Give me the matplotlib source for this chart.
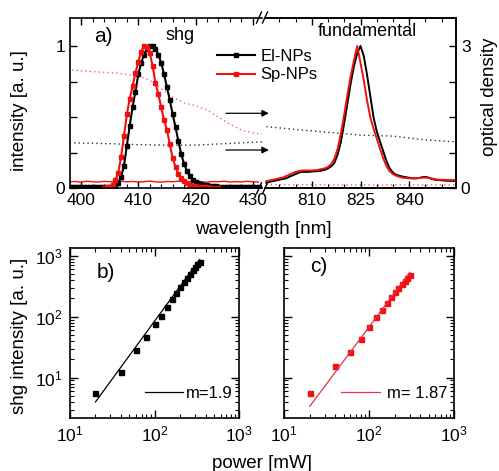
import numpy as np
import matplotlib
matplotlib.use("Agg")
import matplotlib.pyplot as plt
from matplotlib.ticker import MultipleLocator, FixedLocator, FuncFormatter, LogLocator, NullFormatter

plt.rcParams['font.family'] = ['Liberation Sans', 'DejaVu Sans']
plt.rcParams['font.size'] = 12
plt.rcParams['mathtext.default'] = 'regular'

# ---- a) shg spectra (normalised) ----
shg_wl_el = np.arange(398, 431.5, 0.5)
shg_el = [0.01] * 14 + [
    0.01, 0.012, 0.018, 0.035, 0.08, 0.16, 0.30, 0.44, 0.57, 0.68,
    0.80, 0.88, 0.94, 0.98, 1.0, 1.0, 0.98, 0.94, 0.88, 0.80,
    0.71, 0.62, 0.52, 0.43, 0.33, 0.24, 0.17, 0.12, 0.085, 0.06,
    0.045, 0.035, 0.028, 0.023, 0.02, 0.017, 0.015, 0.013, 0.012, 0.011,
] + [0.01] * 13

shg_wl_sp = np.arange(404, 424.5, 0.5)
shg_sp = [
    0.004, 0.006, 0.01, 0.025, 0.055, 0.11, 0.22, 0.37, 0.52, 0.63,
    0.72, 0.81, 0.89, 0.96, 1.0, 0.99, 0.95, 0.86, 0.74, 0.66,
    0.57, 0.48, 0.41, 0.31, 0.21, 0.15, 0.10, 0.07, 0.05, 0.035,
    0.025, 0.018, 0.013, 0.01, 0.008, 0.007, 0.006, 0.005, 0.004, 0.004,
    0.003,
]

# Sp-NPs background level under the shg window
bg_wl_sp = np.arange(398, 432, 1)
bg_sp = [0.045, 0.048, 0.043, 0.05, 0.046, 0.044, 0.049, 0.047, 0.043, 0.05,
         0.046, 0.048, 0.044, 0.047, 0.051, 0.045, 0.043, 0.048, 0.046, 0.05,
         0.044, 0.047, 0.049, 0.045, 0.043, 0.048, 0.046, 0.05, 0.044, 0.047,
         0.045, 0.049, 0.046, 0.044]

# ---- a) fundamental spectra ----
fund_wl = np.arange(796, 855, 1)
fund_el = [0.04, 0.045, 0.05, 0.055, 0.06, 0.065, 0.07, 0.08, 0.09, 0.10,
           0.11, 0.115, 0.115, 0.115, 0.118, 0.12, 0.12, 0.125, 0.13, 0.14,
           0.155, 0.18, 0.24, 0.33, 0.46, 0.60, 0.74, 0.86, 0.95, 1.0,
           0.93, 0.80, 0.65, 0.50, 0.40, 0.33, 0.26, 0.19, 0.14, 0.11,
           0.095, 0.088, 0.082, 0.078, 0.074, 0.07, 0.07, 0.072, 0.078, 0.08,
           0.075, 0.065, 0.06, 0.058, 0.056, 0.054, 0.053, 0.052, 0.051]
fund_sp = [0.05, 0.055, 0.06, 0.065, 0.07, 0.075, 0.085, 0.095, 0.105, 0.115,
           0.12, 0.125, 0.125, 0.125, 0.125, 0.127, 0.13, 0.135, 0.14, 0.15,
           0.17, 0.21, 0.28, 0.39, 0.52, 0.66, 0.79, 0.90, 1.0, 0.88,
           0.76, 0.62, 0.50, 0.42, 0.35, 0.28, 0.21, 0.155, 0.12, 0.10,
           0.088, 0.08, 0.075, 0.072, 0.07, 0.07, 0.07, 0.072, 0.075, 0.075,
           0.072, 0.068, 0.064, 0.06, 0.06, 0.059, 0.058, 0.058, 0.058]

# ---- a) optical density ----
od_wl_sp_l = [398.4, 402, 406, 410, 412, 414, 416, 418, 420, 422, 424, 426, 428, 430, 431.6]
od_sp_l = [2.49, 2.46, 2.43, 2.37, 2.28, 2.10, 1.92, 1.80, 1.74, 1.65, 1.50, 1.35, 1.23, 1.17, 1.14]
od_wl_el_l = [398, 405, 410, 415, 420, 425, 431.6]
od_el_l = [0.96, 0.94, 0.92, 0.91, 0.91, 0.94, 0.98]
od_wl_r = [796, 805, 815, 825, 835, 845, 854]
od_el_r = [1.30, 1.24, 1.18, 1.12, 1.10, 1.02, 0.98]
od_sp_r = [0.08, 0.075, 0.07, 0.07, 0.07, 0.07, 0.07]

# ---- b), c) power dependence ----
power_el = [20, 40, 60, 80, 100, 120, 140, 160, 180, 200, 220, 240, 260, 280, 300, 320, 340]
shg_int_el = [5.7, 12.5, 28, 47, 75, 105, 145, 195, 250, 305, 370, 435, 505, 580, 660, 730, 800]
power_sp = [20, 40, 60, 80, 100, 120, 140, 160, 180, 200, 220, 240, 260, 280, 300]
shg_int_sp = [5.5, 15.7, 26.7, 44, 68, 99, 129, 170, 214, 255, 300, 345, 390, 440, 490]
slope_el = 1.9
slope_sp = 1.87

RED = '#f01010'
LABEL_FS = 13.5

fig = plt.figure(figsize=(4.99, 4.71), dpi=100)
W, H = 499, 471


def box(x0, y0, x1, y1):
    return [x0 / W, 1 - y1 / H, (x1 - x0) / W, (y1 - y0) / H]


ax_l = fig.add_axes(box(70, 17.5, 262, 188.3))
ax_r = fig.add_axes(box(265, 17.5, 456, 188.3))
od_l = ax_l.twinx()
od_r = ax_r.twinx()
for ax, od in ((ax_l, od_l), (ax_r, od_r)):
    ax.set_zorder(od.get_zorder() + 1)
    ax.patch.set_visible(False)
    ax.set_ylim(0, 1.2)
    od.set_ylim(0, 3.6)

# absorption curves (dotted)
od_l.plot(od_wl_sp_l, od_sp_l, color='#e06a6a', lw=1.0, ls=(0, (1, 2.2)))
od_l.plot(od_wl_el_l, od_el_l, color='#333333', lw=1.0, ls=(0, (1, 2.2)))
od_r.plot(od_wl_r, od_el_r, color='#333333', lw=1.0, ls=(0, (1, 2.2)))
od_r.plot(od_wl_r, od_sp_r, color='#e06a6a', lw=1.0, ls=(0, (1, 2.2)))
od_l.axis('off')

# spectra
ax_l.plot(bg_wl_sp, bg_sp, color=RED, lw=1.0)
ax_l.plot(shg_wl_el, shg_el, color='k', lw=1.5, marker='s', ms=2.2, label='El-NPs')
ax_l.plot(shg_wl_sp, shg_sp, color=RED, lw=1.5, marker='s', ms=2.2, label='Sp-NPs')
ax_r.plot(fund_wl, fund_el, color='k', lw=1.4)
ax_r.plot(fund_wl, fund_sp, color=RED, lw=1.4)

ax_l.set_xlim(398.07, 431.6)
ax_r.set_xlim(795.6, 854.4)

ax_l.xaxis.set_major_locator(MultipleLocator(10))
ax_l.xaxis.set_minor_locator(MultipleLocator(2))
ax_r.xaxis.set_major_locator(FixedLocator([810, 825, 840]))
ax_r.xaxis.set_minor_locator(MultipleLocator(5))
ax_l.yaxis.set_major_locator(MultipleLocator(0.25))
ax_l.yaxis.set_major_formatter(FuncFormatter(lambda v, p: '%d' % v if v in (0, 1) else ''))
ax_r.yaxis.set_major_locator(MultipleLocator(0.25))
od_r.yaxis.set_major_locator(MultipleLocator(0.75))
od_r.yaxis.set_major_formatter(FuncFormatter(lambda v, p: '%d' % v if v in (0, 3) else ''))

ax_l.tick_params(which='both', direction='in', top=True, right=False, labelsize=12.5)
ax_l.tick_params(which='major', length=5, width=1)
ax_l.tick_params(which='minor', length=3, width=0.8)
ax_r.tick_params(which='both', direction='in', top=True, left=False, right=False,
                 labelleft=False, labelsize=12.5)
ax_r.tick_params(which='major', length=5, width=1)
ax_r.tick_params(which='minor', length=3, width=0.8)
od_r.tick_params(direction='in', length=5, width=1, labelsize=12.5)

ax_l.spines['right'].set_visible(False)
ax_r.spines['left'].set_visible(False)
od_r.spines['left'].set_visible(False)
for ax in (ax_l, ax_r, od_r):
    for s in ax.spines.values():
        s.set_linewidth(1.2)

# axis break marks
dx, dy = 2.5 / 192, 5.5 / 171
for xb in ((259 - 70) / 192, (265 - 70) / 192):
    for yb in (0, 1):
        ax_l.plot([xb - dx, xb + dx], [yb - dy, yb + dy], transform=ax_l.transAxes,
                  color='k', lw=1.0, clip_on=False)

# arrows pointing to the optical density axis
for y in (0.527, 0.269):
    ax_l.annotate('', xy=(432.8, y), xytext=(425.3, y), annotation_clip=False,
                  arrowprops=dict(arrowstyle='-|>', color='k', lw=0.9,
                                  mutation_scale=10, shrinkA=0, shrinkB=0))

ax_l.legend(loc='upper left', bbox_to_anchor=(0.765, 0.815), frameon=False,
            handlelength=2.3, handletextpad=0.3, labelspacing=0.2,
            borderaxespad=0, borderpad=0, fontsize=12)

fig.text(103 / W, 1 - 37 / H, 'a)', fontsize=15, ha='center', va='center')
fig.text(180 / W, 1 - 35 / H, 'shg', fontsize=13, ha='center', va='center')
fig.text(367 / W, 1 - 32 / H, 'fundamental', fontsize=13, ha='center', va='center')
fig.text(263 / W, 1 - 230 / H, 'wavelength [nm]', fontsize=LABEL_FS, ha='center', va='center')
fig.text(20 / W, 1 - 111 / H, 'intensity [a. u.]', fontsize=LABEL_FS, ha='center', va='center', rotation=90)
fig.text(490 / W, 1 - 97 / H, 'optical density', fontsize=LABEL_FS, ha='center', va='center', rotation=90)

# ---- b) and c) ----
ax_b = fig.add_axes(box(70, 248, 239.3, 417.7))
ax_c = fig.add_axes(box(284.3, 248, 454.3, 417.7))

pw = np.array(power_el, dtype=float)
ax_b.plot(pw, shg_int_el, 's', color='k', ms=3.6, ls='none')
ax_b.plot(pw, 4.0 * (pw / pw[0]) ** slope_el, color='k', lw=0.9, label='m=1.9')
ps = np.array(power_sp, dtype=float)
ax_c.plot(ps, shg_int_sp, 's', color=RED, ms=3.6, ls='none')
ax_c.plot(ps, 3.4 * (ps / ps[0]) ** slope_sp, color='#e8304a', lw=0.9, label='m= 1.87')

for ax, lab, lx, ly, pad in ((ax_b, 'b)', 106, 272, 0.15), (ax_c, 'c)', 319, 267, 0.45)):
    ax.set_xscale('log')
    ax.set_yscale('log')
    ax.set_xlim(10, 1000)
    ax.set_ylim(2.2, 1350)
    ax.xaxis.set_major_locator(LogLocator(base=10, numticks=5))
    ax.yaxis.set_major_locator(LogLocator(base=10, numticks=5))
    ax.xaxis.set_minor_locator(LogLocator(base=10, subs=np.arange(2, 10), numticks=10))
    ax.yaxis.set_minor_locator(LogLocator(base=10, subs=np.arange(2, 10), numticks=10))
    ax.xaxis.set_minor_formatter(NullFormatter())
    ax.yaxis.set_minor_formatter(NullFormatter())
    ax.tick_params(which='both', direction='in', top=True, right=True, labelsize=12.5)
    ax.tick_params(which='major', length=6, width=1, pad=5)
    ax.tick_params(which='minor', length=3, width=0.8)
    for s in ax.spines.values():
        s.set_linewidth(1.2)
    ax.legend(loc='lower right', bbox_to_anchor=(0.96, 0.1), frameon=False,
              handlelength=2.3, handletextpad=pad, borderaxespad=0, borderpad=0, fontsize=12)
    fig.text(lx / W, 1 - ly / H, lab, fontsize=15, ha='center', va='center')

ax_c.tick_params(labelleft=False)

fig.text(20 / W, 1 - 336 / H, 'shg intensity [a. u.]', fontsize=LABEL_FS, ha='center', va='center', rotation=90)
fig.text(262 / W, 1 - 463 / H, 'power [mW]', fontsize=LABEL_FS, ha='center', va='center')

fig.savefig('out.png', dpi=100)
